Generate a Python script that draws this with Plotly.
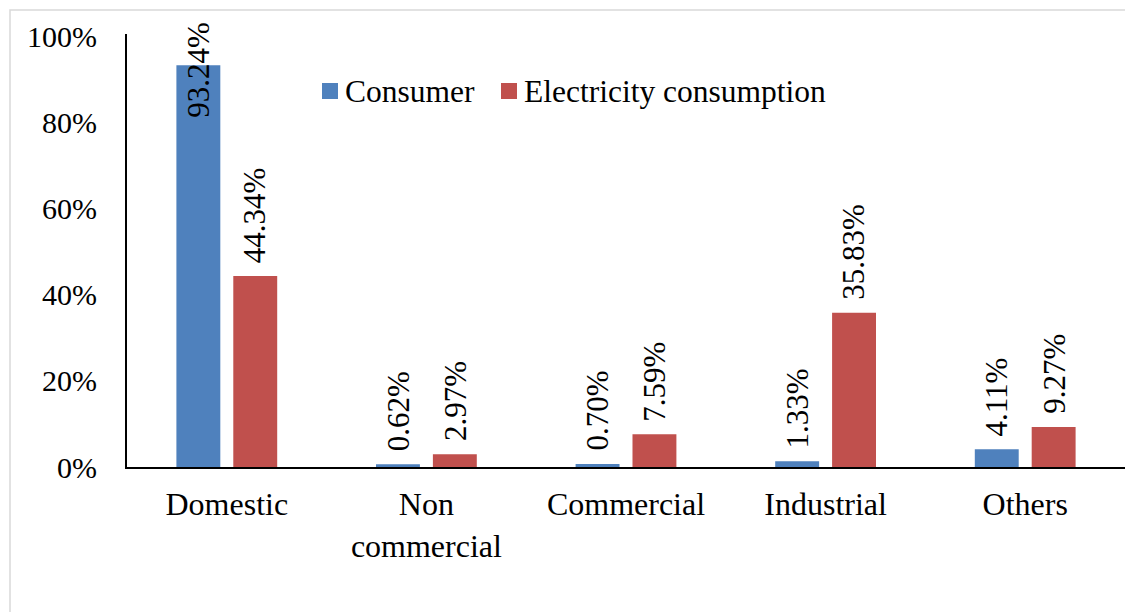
import plotly.graph_objects as go

# Share of consumers and of electricity consumption by customer category (%)
categories = ["Domestic", "Non<br>commercial", "Commercial", "Industrial", "Others"]
series_names = ["Consumer", "Electricity consumption"]
consumer = [93.24, 0.62, 0.70, 1.33, 4.11]
electricity = [44.34, 2.97, 7.59, 35.83, 9.27]
y_ticks = [0, 20, 40, 60, 80, 100]
y_tick_text = [f"{t}%" for t in y_ticks]

BLUE = "#4f81bd"
RED = "#c0504d"
FONT = "Liberation Serif"

W, H = 1125, 612
ML, MR, MT, MB = 127, 0, 34, 145
PW, PH = W - ML - MR, H - MT - MB
BARGAP, GROUPGAP = 0.43, 0.228


def px_x(px):
    return (px - ML) / PW


def px_y(py):
    return (H - MB - py) / PH


fig = go.Figure()
for name, vals, col in [(series_names[0], consumer, BLUE), (series_names[1], electricity, RED)]:
    fig.add_trace(go.Bar(x=list(range(len(categories))), y=vals, name=name,
                         marker=dict(color=col, line=dict(width=0)),
                         offsetgroup=name, showlegend=False))

# Vertical value labels above each bar; a label that would run past the
# top of the axis is centred on the bar end instead.
slot = (1 - BARGAP) / 2
annotations = []
for vals, shift in [(consumer, -slot / 2), (electricity, slot / 2)]:
    for i, v in enumerate(vals):
        tall = v > 80
        annotations.append(dict(
            x=i + shift, y=v, xref="x", yref="y",
            text=f"{v:.2f}%", textangle=-90, showarrow=False,
            xanchor="center", yanchor="middle" if tall else "bottom",
            yshift=-4 if tall else 11,
            font=dict(family=FONT, size=31, color="black"),
        ))

# Legend: coloured squares with series names
legend_items = [(series_names[0], BLUE, 322, 343), (series_names[1], RED, 501, 522)]
shapes = []
for name, col, sq_x, txt_x in legend_items:
    shapes.append(dict(type="rect", xref="paper", yref="paper",
                       x0=px_x(sq_x), x1=px_x(sq_x + 16), y0=px_y(99), y1=px_y(83),
                       line=dict(width=0), fillcolor=col))
    annotations.append(dict(x=px_x(txt_x), y=px_y(91), xref="paper", yref="paper",
                            text=name, showarrow=False, xanchor="left", yanchor="middle",
                            font=dict(family=FONT, size=31.5, color="black")))

# Light frame around the chart
shapes.append(dict(type="rect", xref="paper", yref="paper",
                   x0=px_x(10), x1=px_x(W + 20), y0=px_y(H + 20), y1=px_y(10),
                   line=dict(color="#d9d9d9", width=1.5), fillcolor="rgba(0,0,0,0)",
                   layer="below"))

fig.update_layout(
    width=W, height=H,
    margin=dict(l=ML, r=MR, t=MT, b=MB),
    paper_bgcolor="white", plot_bgcolor="white",
    font=dict(family=FONT, size=30, color="black"),
    barmode="group", bargap=BARGAP, bargroupgap=GROUPGAP,
    showlegend=False,
    annotations=annotations,
    shapes=shapes,
)
fig.update_xaxes(
    showline=True, linecolor="black", linewidth=2, ticks="", showgrid=False,
    range=[-0.5, 4.5], tickvals=list(range(len(categories))), ticktext=categories,
    tickfont=dict(family=FONT, size=32, color="black"), ticklabelstandoff=8,
)
fig.update_yaxes(
    range=[0, 100.5], tickvals=y_ticks, ticktext=y_tick_text, showgrid=False,
    showline=True, linecolor="black", linewidth=2, ticks="", zeroline=False,
    tickfont=dict(family=FONT, size=30, color="black"), ticklabelstandoff=22,
)

fig.write_html("out.html")
